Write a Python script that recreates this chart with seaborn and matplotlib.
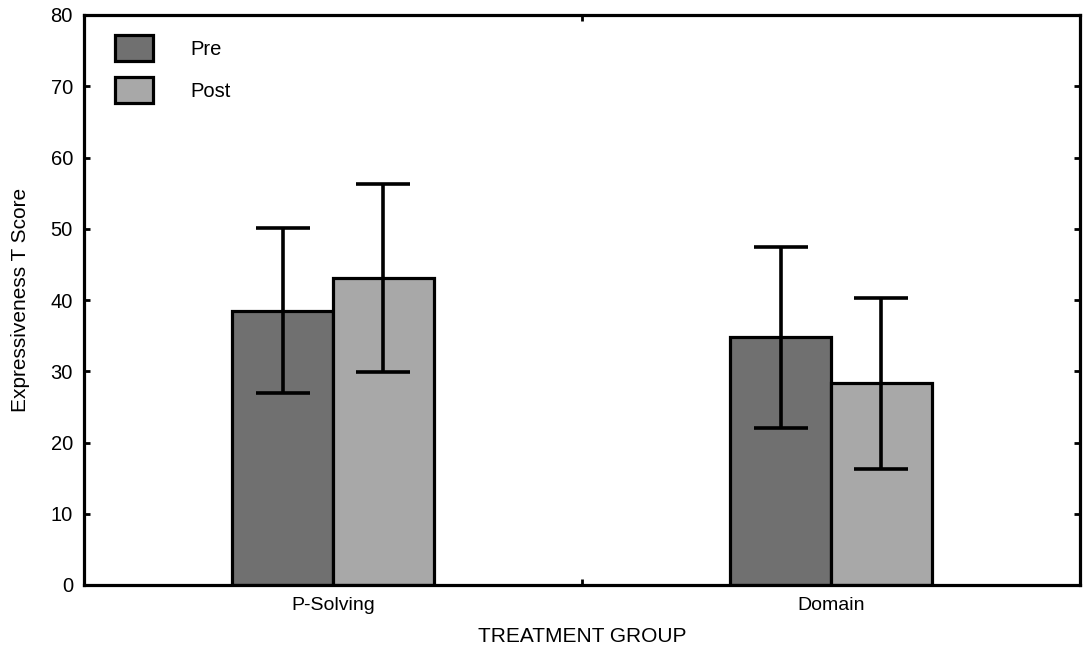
import matplotlib
matplotlib.use("Agg")
import matplotlib.pyplot as plt
import seaborn as sns
import numpy as np
import pandas as pd

# values
groups = ["P-Solving", "P-Solving", "Domain", "Domain"]
phases = ["Pre", "Post", "Pre", "Post"]
means = [38.5, 43.1, 34.8, 28.3]
sds = [11.6, 13.2, 12.7, 12.0]

df = pd.DataFrame({"group": groups, "phase": phases, "score": means, "sd": sds})

sns.set_theme(style="white")
plt.rcParams["font.family"] = ["Liberation Sans", "DejaVu Sans"]
plt.rcParams.update({"text.color": "black", "axes.labelcolor": "black",
                     "xtick.color": "black", "ytick.color": "black"})

fig = plt.figure(figsize=(10.89, 6.56), dpi=100)
ax = fig.add_axes([84 / 1089, 71 / 656, 996 / 1089, 570 / 656])

sns.barplot(
    data=df, x="group", y="score", hue="phase",
    order=["P-Solving", "Domain"], hue_order=["Pre", "Post"],
    palette={"Pre": "#707070", "Post": "#a8a8a8"},
    width=0.405, errorbar=None, edgecolor="black", linewidth=2.3,
    saturation=1, ax=ax,
)

# error bars at bar centres
for cont, ph in zip(ax.containers, ["Pre", "Post"]):
    sub = df[df["phase"] == ph].set_index("group").loc[["P-Solving", "Domain"]]
    xs = [p.get_x() + p.get_width() / 2 for p in cont.patches]
    ax.errorbar(xs, sub["score"].values, yerr=sub["sd"].values, fmt="none",
                ecolor="black", elinewidth=2.6, capsize=19.5, capthick=2.6,
                zorder=5)

ax.set_xlim(-0.5, 1.5)
ax.set_ylim(0, 80)
ax.set_yticks(np.arange(0, 81, 10))
ax.set_xticks([0, 1])
ax.set_xticks([0.5], minor=True)
ax.tick_params(axis="x", which="major", length=0, pad=9, labelsize=14)
ax.tick_params(axis="x", which="minor", direction="in", length=4, width=2,
               top=True, bottom=True)
ax.tick_params(axis="y", direction="in", length=4, width=2, pad=8,
               labelsize=14.5, left=True, right=True)

for s in ax.spines.values():
    s.set_visible(True)
    s.set_linewidth(2.3)
    s.set_color("black")

ax.set_xlabel("TREATMENT GROUP", fontsize=15, labelpad=9)
ax.set_ylabel("Expressiveness T Score", fontsize=15, labelpad=15)

ax.legend(loc="upper left", bbox_to_anchor=(31 / 996, 1 - 20 / 570),
          frameon=False, borderaxespad=0, borderpad=0, fontsize=14.5,
          handlelength=1.9, handleheight=1.6, handletextpad=1.85,
          labelspacing=0.8, title=None)

fig.savefig("out.png", dpi=100)
